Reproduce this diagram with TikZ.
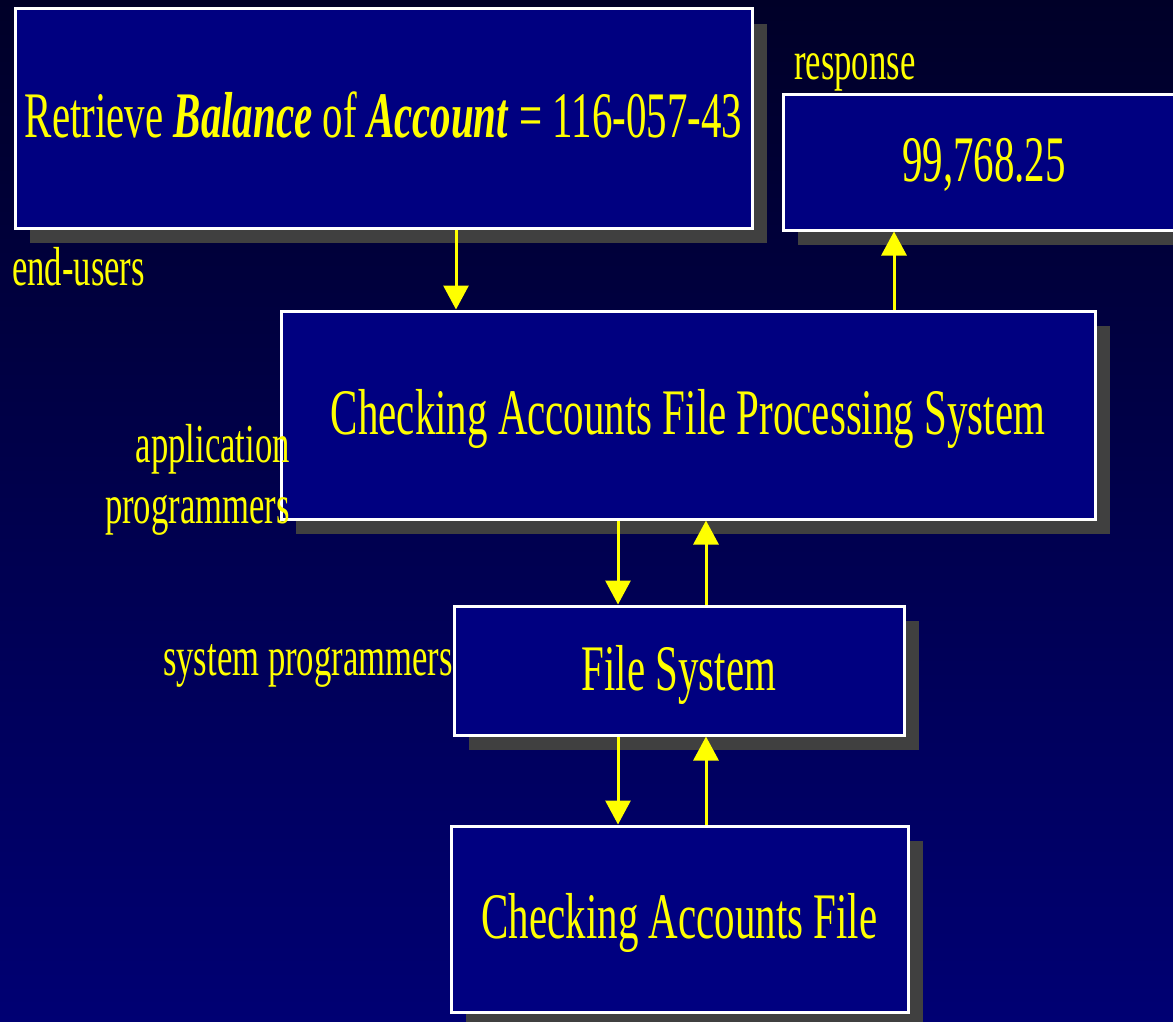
\documentclass[tikz,border=0pt]{standalone}
\usepackage{fontspec}
\setmainfont{Liberation Serif}[FakeStretch=0.63]
\usetikzlibrary{arrows.meta,shadows}
\definecolor{navybox}{RGB}{0,0,128}
\definecolor{shadowgray}{RGB}{64,64,64}
\definecolor{bgtop}{RGB}{0,0,40}
\definecolor{bgbot}{RGB}{0,0,115}
\definecolor{txtyellow}{RGB}{255,255,0}
\begin{document}
\begin{tikzpicture}[x=1pt,y=-1pt,
  box/.style={draw=white, line width=3pt, fill=navybox, inner sep=0pt, text=txtyellow,
    font=\fontsize{65}{70}\selectfont, text height=49pt, text depth=10pt,
    drop shadow={shadow xshift=15pt, shadow yshift=-15pt, fill=shadowgray, opacity=1}},
  lbl/.style={text=txtyellow, inner sep=0pt, font=\fontsize{55}{61}\selectfont},
  arr/.style={draw=txtyellow, line width=3pt, -{Triangle[width=25pt,length=24pt]}}]
\useasboundingbox (0,0) rectangle (1173,1022);
\clip (0,0) rectangle (1173,1022);
\shade[top color=bgtop, bottom color=bgbot] (0,0) rectangle (1173,1022);

\node[box, minimum width=737pt, minimum height=219pt] (req) at (383.5,118.5)
  {Retrieve \textbf{\textit{Balance}} of \textbf{\textit{Account}} = 116-057-43};
\node[box, minimum width=402pt, minimum height=135pt] (resp) at (984,162.5) {99,768.25};
\node[box, minimum width=814pt, minimum height=208pt] (cafps) at (688,415)
  {Checking Accounts File Processing System};
\node[box, minimum width=450pt, minimum height=129pt] (fs) at (679,670.5) {File System};
\node[box, minimum width=457pt, minimum height=186pt] (caf) at (679.5,919) {Checking Accounts File};

\node[lbl, anchor=base west] (response) at (794,80) {response};
\node[lbl, anchor=base west] (endusers) at (12,285) {end-users};
\node[lbl, anchor=base east, align=right] (appprog) at (290,523) {application\\programmers};
\node[lbl, anchor=base east] (sysprog) at (453,675) {system programmers};

\coordinate (xa) at (456,0);
\coordinate (xb) at (894,0);
\coordinate (xc) at (618,0);
\coordinate (xd) at (706,0);
\draw[arr] (req.south -| xa) -- (cafps.north -| xa);
\draw[arr] (cafps.north -| xb) -- (resp.south -| xb);
\draw[arr] (cafps.south -| xc) -- (fs.north -| xc);
\draw[arr] (fs.north -| xd) -- (cafps.south -| xd);
\draw[arr] (fs.south -| xc) -- (caf.north -| xc);
\draw[arr] (caf.north -| xd) -- (fs.south -| xd);
\end{tikzpicture}
\end{document}
